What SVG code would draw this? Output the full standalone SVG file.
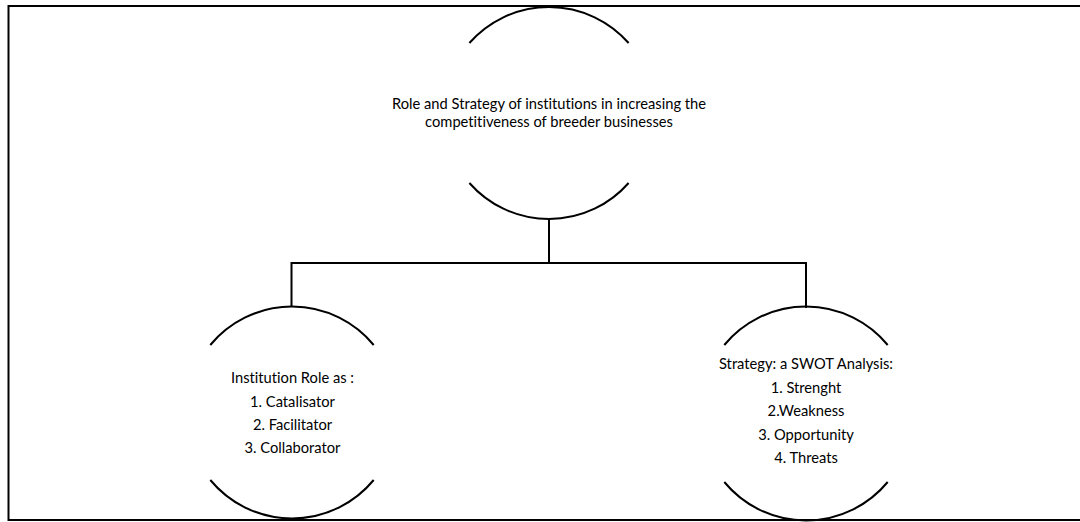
<svg xmlns="http://www.w3.org/2000/svg" width="1080" height="522" viewBox="0 0 1080 522">
<style>
.ln{fill:none;stroke:#000;stroke-width:2}
.t{font-family:Lato,"Liberation Sans",sans-serif;font-size:14.7px;fill:#000;text-anchor:middle;font-variant-ligatures:none}
</style>
<rect x="0" y="0" width="1080" height="522" fill="#fff"/>
<rect id="frame" class="ln" x="8.5" y="6" width="1090" height="514"/>
<g id="connectors" class="ln">
<path d="M549 219V263M291.5 263H806.5M291.5 262V307M806 262V308"/>
</g>
<g id="root">
<path class="ln" d="M469.4 43A106 106 0 0 1 628.6 43M469.4 183A106 106 0 0 0 628.6 183"/>
<text class="t" x="549" y="109">Role and Strategy of institutions in increasing the</text>
<text class="t" x="549" y="127">competitiveness of breeder businesses</text>
</g>
<g id="role">
<path class="ln" d="M210.3 345A106 106 0 0 1 373.7 345M210.3 480A106 106 0 0 0 373.7 480"/>
<text class="t" x="292.5" y="383">Institution Role as :</text>
<text class="t" x="292.5" y="407">1. Catalisator</text>
<text class="t" x="292.5" y="430">2. Facilitator</text>
<text class="t" x="292.5" y="453">3. Collaborator</text>
</g>
<g id="strategy">
<path class="ln" d="M724.3 345A106 106 0 0 1 887.7 345M724.3 482A106 106 0 0 0 887.7 482"/>
<text class="t" x="806" y="369">Strategy: a SWOT Analysis:</text>
<text class="t" x="806" y="393">1. Strenght</text>
<text class="t" x="806" y="416">2.Weakness</text>
<text class="t" x="806" y="440">3. Opportunity</text>
<text class="t" x="806" y="463">4. Threats</text>
</g>
</svg>
